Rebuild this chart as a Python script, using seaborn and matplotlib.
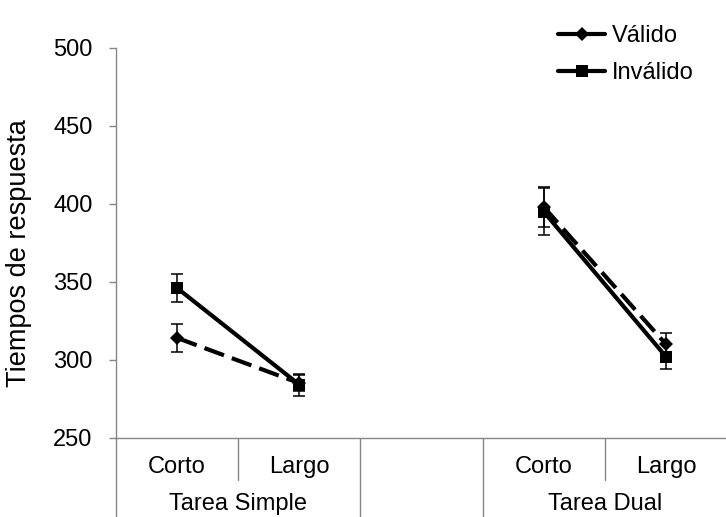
import matplotlib
matplotlib.use("Agg")
import matplotlib.pyplot as plt
import matplotlib.transforms as mtransforms
from matplotlib.lines import Line2D
import seaborn as sns
import pandas as pd

# ---- data ----
categorias = ["Corto", "Largo", "", "Corto", "Largo"]
cat_grupo = ["Tarea Simple", "Tarea Simple", "", "Tarea Dual", "Tarea Dual"]
grupos = ["Tarea Simple", "Tarea Dual"]
condiciones = ["Válido", "Inválido"]
valido = [314, 285, 398, 310]
valido_err = [9, 5, 13, 7]
invalido = [346, 284, 395, 302]
invalido_err = [9, 7, 15, 8]
yticks = [250, 300, 350, 400, 450, 500]

sns.set_style("white")
plt.rcParams["font.family"] = ["Liberation Sans", "DejaVu Sans"]
for k in ["text.color", "axes.labelcolor", "xtick.labelcolor", "ytick.labelcolor"]:
    plt.rcParams[k] = "black"
FS = 17

pos = [i for i, c in enumerate(categorias) if c]
tarea_pts = [cat_grupo[i] for i in pos]
rows = []
for cond, vals, errs in [("Válido", valido, valido_err), ("Inválido", invalido, invalido_err)]:
    for x, t, v, e in zip(pos, tarea_pts, vals, errs):
        rows.append({"x": x, "tiempo": v, "err": e, "cond": cond, "tarea": t})
df = pd.DataFrame(rows)

fig = plt.figure(figsize=(7.26, 5.17), dpi=100)
ax = fig.add_axes([116 / 726, 79.3 / 517, 611 / 726, 389.7 / 517])

style = {
    "Válido": dict(marker="D", markersize=6.8, dashes=(5.0, 2.0)),
    "Inválido": dict(marker="s", markersize=8.8, dashes=None),
}
for cond in condiciones:
    sub = df[df["cond"] == cond]
    ax.errorbar(sub["x"], sub["tiempo"], yerr=sub["err"], fmt="none",
                ecolor="black", elinewidth=1.1, capsize=4.2, capthick=1.1, zorder=2)
    kw = dict(marker=style[cond]["marker"], markersize=style[cond]["markersize"],
              markeredgecolor="black", markeredgewidth=0)
    if style[cond]["dashes"] is not None:
        kw["dashes"] = style[cond]["dashes"]
    sns.lineplot(data=sub, x="x", y="tiempo", units="tarea", estimator=None,
                 color="black", lw=3, ax=ax, legend=False, zorder=3, **kw)

ax.set_xlim(-0.5, len(categorias) - 0.5)
ax.set_ylim(yticks[0], yticks[-1])
ax.set_yticks(yticks)
ax.set_xticks([])
ax.set_xlabel("")
ax.set_ylabel("Tiempos de respuesta", fontsize=19.5, color="black")
ax.yaxis.set_label_coords(-0.137, 0.474)
ax.tick_params(axis="y", labelsize=FS, length=5, width=1, color="#868686",
               labelcolor="black", direction="out", pad=12, left=True)
for s in ["top", "right"]:
    ax.spines[s].set_visible(False)
for s in ["left", "bottom"]:
    ax.spines[s].set_color("#868686")
    ax.spines[s].set_linewidth(1)

# multi-level category axis
trans = mtransforms.blended_transform_factory(ax.transData, ax.transAxes)
n = len(categorias)
for i, c in enumerate(categorias):
    ax.text(i, -0.075, c, transform=trans, ha="center", va="center", fontsize=FS,
            color="black")
for b in range(n + 1):
    left = cat_grupo[b - 1] if b > 0 else None
    right = cat_grupo[b] if b < n else None
    short = left is not None and left == right and left != ""
    y1 = -0.109 if short else -0.25
    ax.plot([b - 0.5, b - 0.5], [0, y1], transform=trans, color="#868686",
            lw=1, clip_on=False)
for g in grupos:
    idx = [i for i, cg in enumerate(cat_grupo) if cg == g]
    ax.text(sum(idx) / len(idx), -0.17, g, transform=trans, ha="center",
            va="center", fontsize=FS, color="black")

handles = [
    Line2D([], [], color="black", lw=3, marker="D", markersize=6.8, markeredgewidth=0),
    Line2D([], [], color="black", lw=3, marker="s", markersize=8.8, markeredgewidth=0),
]
ax.legend(handles, condiciones, loc="upper left", frameon=False, fontsize=FS,
          bbox_to_anchor=(558 / 726, 1 - 25 / 517), bbox_transform=fig.transFigure,
          borderpad=0, borderaxespad=0, handlelength=2.0, handletextpad=0.3,
          labelspacing=0.65)

fig.savefig("out.png", dpi=100)
